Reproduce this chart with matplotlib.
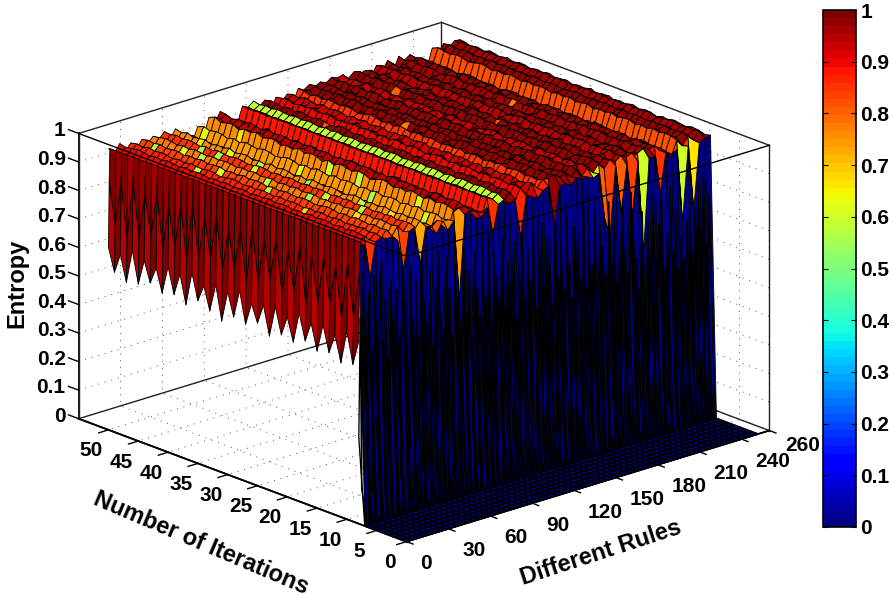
import numpy as np
import matplotlib
matplotlib.use("Agg")
import matplotlib.pyplot as plt
from matplotlib.cm import ScalarMappable
from matplotlib.colors import Normalize
from mpl_toolkits.mplot3d import proj3d

plt.rcParams['font.family'] = ['Liberation Sans', 'DejaVu Sans']
plt.rcParams['font.weight'] = 'bold'
plt.rcParams['grid.linestyle'] = (0, (1, 6))
plt.rcParams['grid.linewidth'] = 0.7
plt.rcParams['grid.color'] = '#555555'

# ---------- data ----------
rules = list(range(0, 256, 4))
iterations = list(range(0, 51))
first_active_iteration = 8

rule_level = [
 .985,.965,.990,.965,.985,.960,.985,.955,.985,.960,.985,.950,.980,.955,.950,.925,
 .970,.925,.990,.970,.990,.965,.955,.925,.990,.980,.995,.970,.990,.950,.990,.970,
 .990,.955,.990,.975,.995,.970,.990,.972,.995,.975,.990,.970,.995,.975,.990,.972,
 .995,.975,.990,.972,.995,.975,.990,.965,.965,.930,.995,.975,.995,.978,.995,.985]
rule_color = [
 .99,.90,.93,.86,.90,.84,.88,.78,.87,.85,.85,.75,.84,.82,.82,.74,
 .78,.76,.90,.95,.97,.96,.92,.89,.96,.58,.95,.97,.93,.90,.97,.93,
 .97,.85,.97,.97,.96,.97,.95,.97,.97,.93,.97,.98,.96,.97,.97,.95,
 .98,.97,.97,.96,.98,.97,.96,.94,.97,.82,.97,.97,.98,.96,.98,.96]
rule_wave = [
 .2,.3,.2,.3,.2,.4,.2,.4,.2,.4,.2,.5,.3,.4,.3,.3,
 .3,.3,.4,.9,.3,1.,.3,.3,.1,.1,.2,.8,.3,1.,.3,1.,
 .3,1.,.3,.9,.3,1.,.3,.8,.3,1.,.3,.9,.3,.8,.3,1.,
 .3,.8,.3,1.,.3,.9,.3,1.,.3,.9,.3,.7,.2,.4,.2,.3]
iter_wave = [
 .012,-.006,.015,-.012,.004,.018,-.010,.008,-.016,.010,.020,-.004,-.018,.006,.014,
 -.008,.002,.016,-.014,.010,-.020,.006,.012,-.006,.018,-.012,.004,-.016,.014,.008,
 -.010,.020,-.004,.006,-.018,.012,.002,-.012,.016,-.006,.010,-.014,.006]

# the rule-0 side wall: lower tips, middle fold and the colour of its two strips (iterations 8..50)
edge_rules = [0, 0.5, 1]
edge_tip = [
 .64,.55,.66,.54,.63,.56,.65,.55,.64,.57,.66,.55,.63,.56,.65,.54,
 .64,.57,.63,.55,.66,.56,.64,.53,.65,.55,.63,.57,.66,.54,.64,.56,
 .65,.55,.63,.57,.64,.55,.66,.54,.63,.56,.64]
edge_mid = [
 .88,.72,.90,.70,.87,.74,.89,.72,.88,.70,.90,.73,.86,.71,.89,.74,
 .87,.72,.90,.70,.88,.73,.86,.71,.89,.74,.87,.72,.90,.70,.88,.73,
 .86,.71,.89,.74,.87,.72,.90,.70,.88,.73,.87]
edge_top = [
 .985,.985,.985,.985,.985,.985,.985,.985,.985,.985,.985,.985,.985,.985,.985,.985,
 .985,.985,.985,.985,.985,.985,.985,.985,.985,.985,.985,.985,.985,.985,.985,.985,
 .985,.985,.985,.985,.985,.985,.985,.985,.985,.985,.985]
edge_color_low = [
 .99,.94,.99,.95,.99,.94,.99,.95,.99,.94,.99,.95,.99,.94,.99,.95,
 .99,.94,.99,.95,.99,.94,.99,.95,.99,.94,.99,.95,.99,.94,.99,.95,
 .99,.94,.99,.95,.99,.94,.99,.95,.99,.94,.99]
edge_color_high = [
 .97,.99,.96,.99,.97,.99,.96,.99,.97,.99,.96,.99,.97,.99,.96,.99,
 .97,.99,.96,.99,.97,.99,.96,.99,.97,.99,.96,.99,.97,.99,.96,.99,
 .97,.99,.96,.99,.97,.99,.96,.99,.97,.99,.96]

# front edge of the plateau (iteration 8)
front_level = [
 .985,.97,.85,.97,.98,.97,.97,.95,.84,.97,.98,.845,.97,.96,.98,.97,
 .97,.96,.68,.97,.98,.97,.96,.97,.87,.97,.98,.96,.97,.83,.97,.96,
 .95,.97,.98,.835,.97,.97,.96,.98,.97,.97,.96,.97,.81,.74,.98,.81,
 .97,.79,.97,.64,.97,.97,.835,.97,.96,.97,.71,.97,.74,.97,.98,.985]
front_color = [
 .99,.90,.85,.86,.90,.84,.88,.78,.84,.80,.74,.72,.84,.82,.82,.72,
 .78,.80,.74,.95,.97,.96,.92,.85,.85,.58,.95,.97,.88,.86,.97,.93,
 .88,.86,.85,.97,.96,.97,.95,.97,.97,.85,.58,.66,.80,.84,.96,.81,
 .98,.83,.85,.60,.97,.90,.85,.97,.97,.84,.60,.85,.66,.97,.98,.96]

# colour of the wall row, one per rule band (low entropies)
wall_color = [
 .00,.01,.00,.02,.00,.00,.03,.00,.01,.00,.02,.00,.03,.00,.00,.01,
 .00,.03,.00,.00,.02,.00,.01,.00,.03,.00,.00,.02,.00,.01,.03,.00,
 .01,.00,.03,.00,.00,.02,.00,.01,.00,.03,.00,.00,.02,.00,.03,.00,
 .00,.01,.00,.02,.00,.00,.03,.00,.01,.00,.02,.00,.03,.00,.01,.00]

# sparse low-valued cells on the plateau
speck_rule = [5,7,7,9,9,11,11,11,13,13,5,7,9,11,13,15,15,17,17,3,3,7,9,
              11,13,15,17,5,9,13,17,15,11,7,27,35,45,43,51,33]
speck_iter = [47,44,30,40,22,45,35,18,42,25,28,15,34,27,37,48,20,44,14,38,20,23,16,
              13,19,32,29,36,43,31,24,11,40,41,39,33,27,42,30,23]
speck_color = [.55,.62,.58,.55,.60,.66,.55,.58,.62,.55,.58,.66,.62,.56,.60,.64,.56,.66,.62,.60,.66,.55,.58,
               .66,.56,.64,.60,.62,.56,.66,.58,.60,.64,.58,.80,.78,.82,.80,.78,.82]

# fine ribs in front of the wall: one low and one taller value per two rules
rib_low = [
 .30,.12,.46,.18,.55,.10,.38,.24,.60,.14,.33,.09,.52,.20,.41,.13,.58,.26,.11,.47,.16,
 .36,.62,.12,.28,.50,.09,.43,.19,.57,.15,.34,.10,.48,.23,.60,.13,.30,.45,.11,.54,.18,
 .39,.08,.59,.21,.35,.14,.49,.10,.56,.27,.16,.44,.12,.61,.19,.32,.09,.51,.24,.40,.13,
 .57,.11,.37,.22,.53,.15,.29,.60,.10,.46,.17,.35,.55,.12,.42,.20,.58,.09,.31,.50,.14,
 .38,.25,.62,.11,.47,.18,.33,.56,.13,.41,.10,.52,.23,.36,.59,.15,.28,.49,.09,.44,.19,
 .57,.12,.34,.54,.16,.40,.10,.60,.26,.31,.48,.13,.55,.20,.37,.11,.50,.24,.42,.15,.30]
rib_tall = [
 .72,.88,.64,.80,.58,.85,.70,.90,.62,.76,.55,.82,.68,.78,.60,.86,.74,.52,.83,.66,.79,
 .57,.88,.71,.63,.81,.54,.75,.87,.65,.59,.84,.73,.56,.80,.69,.58,.86,.62,.77,.53,.83,
 .70,.60,.78,.66,.88,.56,.81,.72,.64,.85,.59,.76,.68,.82,.55,.74,.87,.61,.79,.67,.84,
 .57,.73,.86,.63,.80,.70,.54,.83,.65,.77,.60,.85,.69,.56,.81,.72,.62,.88,.58,.75,.66,
 .84,.53,.78,.71,.60,.86,.64,.80,.56,.74,.83,.68,.59,.87,.70,.63,.52,.79,.50,.76,.65,
 .84,.60,.73,.81,.57,.69,.85,.62,.77,.55,.66,.58,.71,.80,.60,.74,.83,.67,.86,.61,.78]

bar_ticks = [0, .1, .2, .3, .4, .5, .6, .7, .8, .9, 1]
bar_ticklabels = ['0', '0.1', '0.2', '0.3', '0.4', '0.5', '0.6', '0.7', '0.8', '0.9', '1']
x_ticks = [0, 30, 60, 90, 120, 150, 180, 210, 240, 260]
y_ticks = [0, 5, 10, 15, 20, 25, 30, 35, 40, 45, 50]

# ---------- assemble the surface ----------
ni, nr = len(iterations), len(rules)
Z = np.zeros((ni, nr))
C = np.zeros((ni, nr))
for ii, it in enumerate(iterations):
    if it < first_active_iteration:
        continue
    k = it - first_active_iteration
    for jr in range(nr):
        wave = iter_wave[(k + 7 * jr) % len(iter_wave)]
        Z[ii, jr] = min(1.0, rule_level[jr] + rule_wave[jr] * wave)
        C[ii, jr] = rule_color[jr]
i0 = iterations.index(first_active_iteration)
Z[i0, :] = front_level
C[i0, :] = front_color
C[i0 - 1, :] = wall_color
for r, it, c in zip(speck_rule, speck_iter, speck_color):
    C[iterations.index(it), r] = c

cmap = plt.get_cmap('jet', 64)
X, Y = np.meshgrid(rules, iterations)

# ---------- figure ----------
W, H = 893, 599
fig = plt.figure(figsize=(W / 100, H / 100), dpi=100, facecolor='white')
L = 733
cx, cy = 424, 317
f0 = 0.095 / 0.185
ax = fig.add_axes([(cx - f0 * L) / W, (cy - f0 * L) / H, L / W, L / H],
                  projection='3d', computed_zorder=False)
ax.set_proj_type('ortho')
ax.view_init(elev=19.8, azim=-132.1)
ax.set_box_aspect((1, 1, 0.62))
ax.patch.set_alpha(0)
ax.set_xlim(0, 260)
ax.set_ylim(0, 55)
ax.set_zlim(0, 1)

for axis in (ax.xaxis, ax.yaxis, ax.zaxis):
    axis.set_pane_color((1, 1, 1, 1))
    axis.pane.set_edgecolor('none')
    axis.line.set_color('black')
    axis.line.set_linewidth(1.3)
    axis._axinfo['tick']['inward_factor'] = 0.0
    axis._axinfo['tick']['outward_factor'] = 0.0

ax.set_xticks(x_ticks)
ax.set_yticks(y_ticks)
ax.set_zticks(bar_ticks)
ax.set_xticklabels([])
ax.set_yticklabels([])
ax.set_zticklabels([])
ax.grid(True)

# back box edges, surface, ribs, front box edges
xmin, xmax, ymin, ymax = 0, 260, 0, 55
back = [([xmin, xmin], [ymax, ymax], [0, 1]), ([xmax, xmax], [ymax, ymax], [0, 1]),
        ([xmax, xmax], [ymin, ymin], [0, 1]), ([xmin, xmin], [ymin, ymax], [0, 0]),
        ([xmin, xmax], [ymax, ymax], [0, 0]), ([xmax, xmax], [ymin, ymax], [0, 0]),
        ([xmin, xmax], [ymax, ymax], [1, 1]), ([xmax, xmax], [ymin, ymax], [1, 1])]
front = [([xmin, xmin], [ymin, ymax], [1, 1]), ([xmin, xmax], [ymin, ymin], [1, 1]),
         ([xmin, xmin], [ymin, ymin], [0, 1]),
         ([xmin, xmax], [ymin, ymin], [0, 0]), ([xmin, xmin], [ymin, ymax], [0, 0])]
for seg in back:
    ax.plot(*seg, color='#222222', lw=1.0, zorder=1)

ax.plot_surface(X, Y, Z, facecolors=cmap(C), rstride=1, cstride=1, shade=False,
                edgecolor='black', linewidth=0.6, zorder=2)

active = iterations[i0:]
ex, ey = np.meshgrid(edge_rules, active)
ez = np.column_stack([edge_tip, edge_mid, edge_top])
ec = np.column_stack([edge_color_low, edge_color_high, edge_color_high])
ax.plot_surface(ex, ey, ez, facecolors=cmap(ec), rstride=1, cstride=1, shade=False,
                edgecolor='black', linewidth=0.6, zorder=2.5)

# floor mesh and fine wall ribs as lines over the faces
ax.plot_wireframe(X[:i0], Y[:i0], Z[:i0], color='black', linewidth=1.2,
                  rstride=1, cstride=1, zorder=3)
rib_rules = list(range(0, 252))
rib_level = [v for pair in zip(rib_low, rib_tall) for v in pair]
rib_x, rib_y = np.meshgrid(rib_rules, [first_active_iteration - 1, first_active_iteration])
rib_z = np.vstack([np.zeros(len(rib_rules)), rib_level])
ax.plot_wireframe(rib_x, rib_y, rib_z, color='black', linewidth=0.95,
                  rstride=1, cstride=1, zorder=3)

for seg in front:
    ax.plot(*seg, color='black', lw=1.0, zorder=5)

# ticks and their labels
tick_lw = 1.0
label_size = 15
M = ax.get_proj()


def put_label(text, pos, dx, dy, ha):
    sx, sy, _ = proj3d.proj_transform(pos[0], pos[1], pos[2], M)
    ax.annotate(text, (sx, sy), xycoords='data', xytext=(dx, -dy), textcoords='offset pixels',
                ha=ha, va='center', fontsize=label_size, annotation_clip=False, zorder=6)


for v in x_ticks:
    ax.plot([v, v], [0, -1.1], [0, 0], color='black', lw=tick_lw, zorder=5)
    if v == 260:
        put_label(str(v), (v, 0, 0), 16, 15, 'left')
    else:
        put_label(str(v), (v, 0, 0), 14, 22, 'left')
for v in y_ticks:
    ax.plot([0, -7], [v, v], [0, 0], color='black', lw=tick_lw, zorder=5)
    put_label(str(v), (0, v, 0), -17, 21, 'center')
for v, s in zip(bar_ticks, bar_ticklabels):
    ax.plot([0, 0], [55, 56.7], [v, v], color='black', lw=tick_lw, zorder=5)
    put_label(s, (0, 55, v), -13, -2.5, 'right')

fig.text(17 / W, 1 - 283 / H, 'Entropy', rotation=90, ha='center', va='center', fontsize=17)
fig.text(201 / W, 1 - 543 / H, 'Number of Iterations', rotation=-23, ha='center', va='center', fontsize=17)
fig.text(601 / W, 1 - 553 / H, 'Different Rules', rotation=18, ha='center', va='center', fontsize=17)

cax = fig.add_axes([823 / W, 1 - 527 / H, 33 / W, 517 / H])
cb = fig.colorbar(ScalarMappable(Normalize(0, 1), cmap), cax=cax, ticks=bar_ticks)
cb.ax.set_yticklabels(bar_ticklabels)
cb.ax.tick_params(labelsize=label_size, direction='in', length=3.5, left=True, right=True, pad=3, width=0.8)
cb.outline.set_linewidth(1.2)

fig.savefig('out.png', dpi=100)
